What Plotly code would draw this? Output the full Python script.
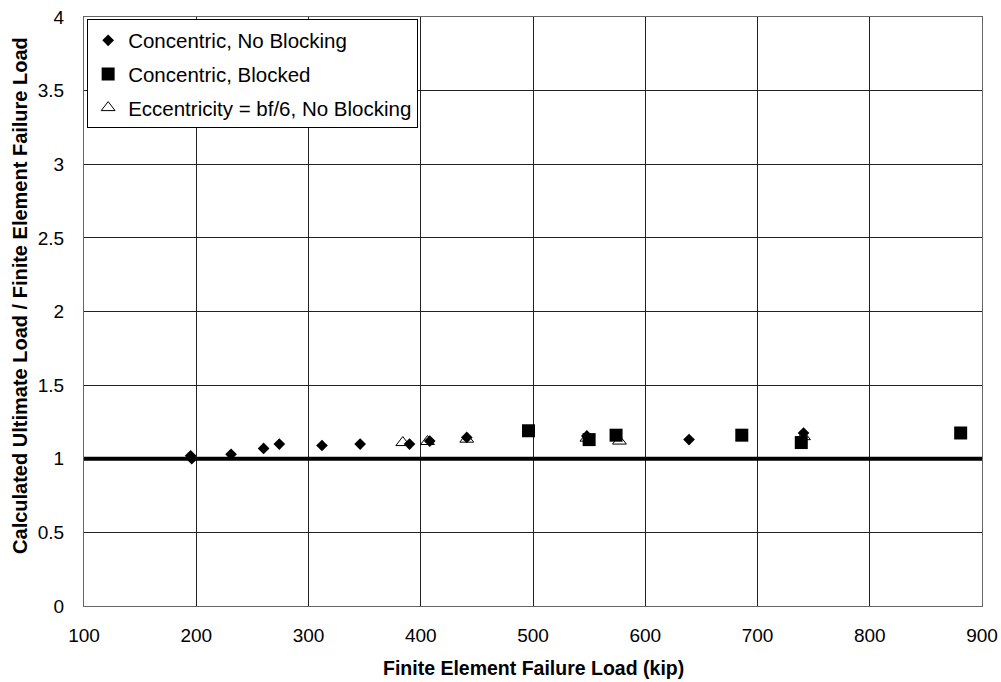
import plotly.graph_objects as go

# Concentric load, no blocking
conc_nb_load = [195, 196, 231, 260, 274, 312, 346, 390, 408, 441, 548, 639, 741]
conc_nb_ratio = [1.02, 1.00, 1.03, 1.07, 1.10, 1.09, 1.10, 1.10, 1.12, 1.145, 1.155, 1.13, 1.175]

# Concentric load, blocked
conc_bl_load = [496, 550, 574, 686, 739, 881]
conc_bl_ratio = [1.19, 1.13, 1.16, 1.16, 1.11, 1.175]

# Eccentric load (bf/6), no blocking
ecc_nb_load = [384, 406, 441, 548, 577, 741]
ecc_nb_ratio = [1.11, 1.117, 1.133, 1.14, 1.12, 1.15]

# Unity reference line
ref_load = [100, 900]
ref_ratio = [1, 1]

FONT = "Liberation Sans, Arial, sans-serif"

fig = go.Figure()

fig.add_trace(go.Scatter(
    x=ref_load, y=ref_ratio, mode="lines",
    line=dict(color="black", width=4), showlegend=False, hoverinfo="skip"))

fig.add_trace(go.Scatter(
    x=ecc_nb_load, y=ecc_nb_ratio, mode="markers",
    name="Eccentricity = bf/6, No Blocking", legendgroup="c", legendrank=3,
    marker=dict(symbol="triangle-up", size=12, color="white",
                line=dict(color="black", width=1))))

fig.add_trace(go.Scatter(
    x=conc_nb_load, y=conc_nb_ratio, mode="markers",
    name="Concentric, No Blocking", legendgroup="a", legendrank=1,
    marker=dict(symbol="diamond", size=9, color="black")))

fig.add_trace(go.Scatter(
    x=conc_bl_load, y=conc_bl_ratio, mode="markers",
    name="Concentric, Blocked", legendgroup="b", legendrank=2,
    marker=dict(symbol="square", size=13, color="black")))

fig.update_layout(
    width=1001, height=682,
    margin=dict(l=84, r=19, t=17, b=76),
    paper_bgcolor="white", plot_bgcolor="white",
    font=dict(family=FONT, color="black", size=19),
    legend=dict(
        x=0.0035, y=0.9958, xanchor="left", yanchor="top",
        bgcolor="white", bordercolor="black", borderwidth=1,
        font=dict(family=FONT, size=20.5, color="black"),
        traceorder="grouped", tracegroupgap=4,
        itemwidth=30,
    ),
    annotations=[
        dict(text="<b>Finite Element Failure Load (kip)</b>",
             xref="paper", yref="paper", x=0.5, y=-0.1045,
             xanchor="center", yanchor="middle", showarrow=False,
             font=dict(family=FONT, size=19.5, color="black")),
        dict(text="<b>Calculated Ultimate Load / Finite Element Failure Load</b>",
             xref="paper", yref="paper", x=-0.072, y=0.527,
             xanchor="center", yanchor="middle", showarrow=False, textangle=-90,
             font=dict(family=FONT, size=20, color="black")),
    ],
)

fig.update_xaxes(
    range=[100, 900], tickmode="linear", tick0=100, dtick=100,
    showgrid=True, gridcolor="#222222", gridwidth=1,
    showline=True, linecolor="#666666", linewidth=1, mirror=True,
    zeroline=False, ticks="", ticklabelstandoff=12, automargin=False,
    tickfont=dict(family=FONT, size=19, color="black"),
)

fig.update_yaxes(
    range=[0, 4], tickmode="linear", tick0=0, dtick=0.5,
    showgrid=True, gridcolor="#222222", gridwidth=1,
    showline=True, linecolor="#666666", linewidth=1, mirror=True,
    zeroline=False, ticks="", ticklabelstandoff=15, automargin=False,
    tickfont=dict(family=FONT, size=19, color="black"),
)

fig.write_html("out.html")
